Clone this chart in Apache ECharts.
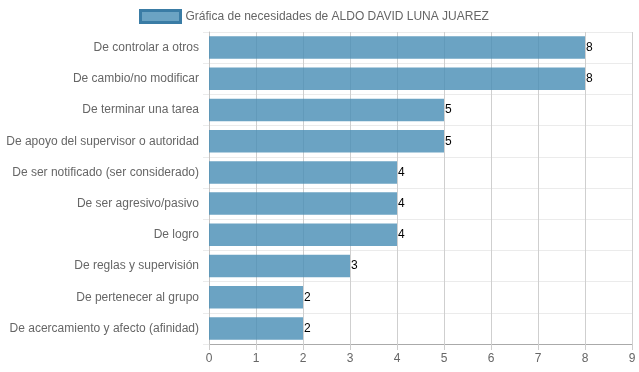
<!DOCTYPE html>
<html>
<head>
<meta charset="utf-8">
<script src="https://cdn.jsdelivr.net/npm/echarts@6/dist/echarts.min.js"></script>
<style>html,body{margin:0;padding:0;background:#fff}#c{width:639px;height:372px}</style>
</head>
<body>
<div id="c"></div>
<script>
const categories = [
  "De controlar a otros",
  "De cambio/no modificar",
  "De terminar una tarea",
  "De apoyo del supervisor o autoridad",
  "De ser notificado (ser considerado)",
  "De ser agresivo/pasivo",
  "De logro",
  "De reglas y supervisión",
  "De pertenecer al grupo",
  "De acercamiento y afecto (afinidad)"
];
const values = [8, 8, 5, 5, 4, 4, 4, 3, 2, 2];
const seriesName = "Gráfica de necesidades de ALDO DAVID LUNA JUAREZ";

const font = "'Liberation Sans', Arial, Helvetica, sans-serif";
const chart = echarts.init(document.getElementById('c'), null, {renderer: 'canvas'});
chart.setOption({
  animation: false,
  textStyle: {fontFamily: font},
  legend: {
    left: 134, top: 4,
    itemWidth: 40, itemHeight: 12, itemGap: 10,
    icon: 'rect',
    textStyle: {color: '#666', fontSize: 12, fontFamily: font},
    data: [{name: seriesName, itemStyle: {color: 'rgba(70,140,180,0.8)', borderColor: '#3a7ca5', borderWidth: 3}}]
  },
  grid: {left: 209, right: 7, top: 32, bottom: 28, containLabel: false},
  xAxis: {
    type: 'value', min: 0, max: 9, interval: 1,
    axisLine: {show: true, lineStyle: {color: '#aaa', width: 1}},
    axisTick: {show: true, length: 6, lineStyle: {color: '#ccc'}},
    axisLabel: {color: '#666', fontSize: 12, margin: 9, fontFamily: font},
    splitLine: {show: true, lineStyle: {color: '#cfcfcf', width: 1}}
  },
  yAxis: {
    type: 'category', data: categories, inverse: true,
    axisLine: {show: true, lineStyle: {color: '#c4c4c4'}},
    axisTick: {show: true, length: 6, lineStyle: {color: '#ebebeb'}},
    axisLabel: {color: '#666', fontSize: 12, margin: 10, fontFamily: font},
    splitLine: {show: true, lineStyle: {color: '#ebebeb', width: 1}}
  },
  series: [{
    name: seriesName,
    type: 'bar',
    data: values,
    barCategoryGap: '28%',
    itemStyle: {color: 'rgba(70,140,180,0.8)'},
    label: {show: true, position: 'right', distance: 1, color: '#000', fontSize: 12, fontFamily: font},
    emphasis: {disabled: true}
  }]
});
</script>
</body>
</html>
